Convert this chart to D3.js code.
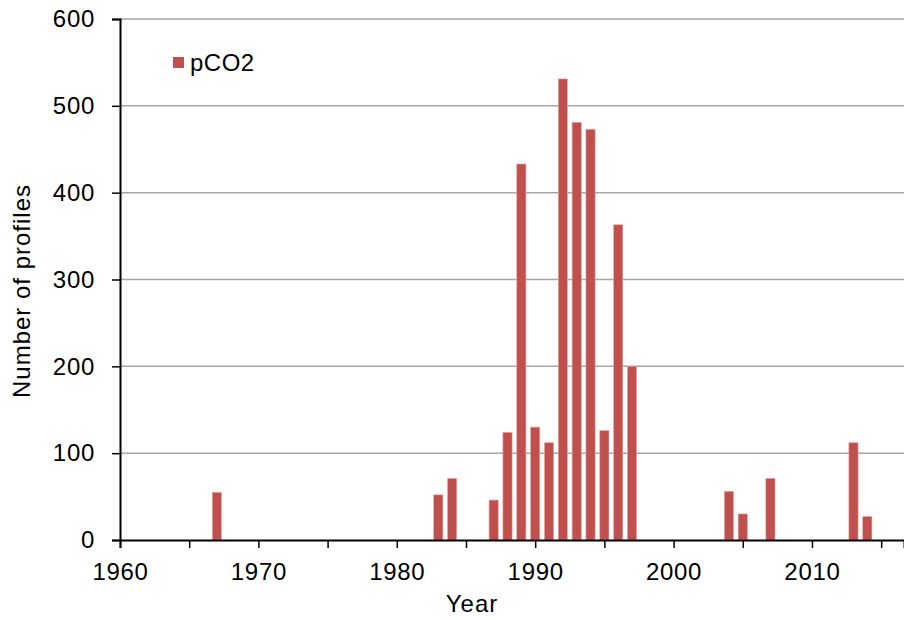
<!DOCTYPE html>
<html>
<head>
<meta charset="utf-8">
<script src="https://cdn.jsdelivr.net/npm/d3@7"></script>
<style>
  body { margin: 0; background: #fff; }
  text { font-family: "Liberation Sans", Arial, sans-serif; }
</style>
</head>
<body>
<div id="chart"></div>
<script>
// profile counts per year
var years  = [1967, 1983, 1984, 1987, 1988, 1989, 1990, 1991, 1992, 1993, 1994, 1995, 1996, 1997, 2004, 2005, 2007, 2013, 2014]
var counts = [55, 52, 71, 46, 124, 433, 130, 112, 531, 481, 473, 126, 363, 200, 56, 30, 71, 112, 27]
var yTicks = [0, 100, 200, 300, 400, 500, 600]
var xTicks = [1960, 1965, 1970, 1975, 1980, 1985, 1990, 1995, 2000, 2005, 2010, 2015]
var xLabels = [1960, 1970, 1980, 1990, 2000, 2010]

var W = 904, H = 620
var plotLeft = 120, plotRight = 904, plotTop = 19, plotBottom = 540

var svg = d3.select("#chart").append("svg")
  .attr("width", W)
  .attr("height", H)

var x = d3.scaleLinear().domain([1960, 2016.65]).range([plotLeft, plotRight])
var y = d3.scaleLinear().domain([0, 600]).range([plotBottom, plotTop])

// gridlines
svg.append("g").selectAll("line")
  .data(yTicks.filter(function(d){ return d > 0 }))
  .enter().append("line")
  .attr("x1", plotLeft).attr("x2", plotRight)
  .attr("y1", function(d){ return y(d) }).attr("y2", function(d){ return y(d) })
  .attr("stroke", "#a6a6a6").attr("stroke-width", 1.5)

// bars
var bw = 9.2
svg.append("g").selectAll("rect")
  .data(years)
  .enter().append("rect")
  .attr("x", function(d){ return x(d) - bw/2 })
  .attr("y", function(d, i){ return y(counts[i]) })
  .attr("width", bw)
  .attr("height", function(d, i){ return y(0) - y(counts[i]) })
  .attr("fill", "#c0504d")
  .attr("stroke", "#e8a8a6").attr("stroke-width", 0.6)

// y axis
var yAxis = d3.axisLeft(y).tickValues(yTicks).tickSize(8).tickPadding(17)
var gy = svg.append("g").attr("transform", "translate(" + plotLeft + ",0)").call(yAxis)
gy.select(".domain").attr("stroke", "#000").attr("stroke-width", 2)
gy.selectAll(".tick line").attr("stroke", "#000").attr("stroke-width", 1.5)
gy.selectAll("text").attr("font-size", "24px").attr("fill", "#000")
  .attr("letter-spacing", "0.7px")
  .attr("font-family", "Liberation Sans, Arial, sans-serif")

// x axis
var xAxis = d3.axisBottom(x).tickValues(xTicks).tickSize(8).tickPadding(15)
  .tickFormat(function(d){ return xLabels.indexOf(d) >= 0 ? d : "" })
var gx = svg.append("g").attr("transform", "translate(0," + plotBottom + ")").call(xAxis)
gx.select(".domain").attr("stroke", "#000").attr("stroke-width", 2)
gx.selectAll(".tick line").attr("stroke", "#000").attr("stroke-width", 1.5)
gx.selectAll("text").attr("font-size", "24px").attr("fill", "#000")
  .attr("letter-spacing", "0.7px")
  .attr("font-family", "Liberation Sans, Arial, sans-serif")

// axis titles
svg.append("text")
  .attr("x", 472).attr("y", 612)
  .attr("text-anchor", "middle")
  .attr("font-size", "24px")
  .attr("letter-spacing", "1px")
  .text("Year")

svg.append("text")
  .attr("transform", "translate(30,291) rotate(-90)")
  .attr("text-anchor", "middle")
  .attr("font-size", "24px")
  .attr("letter-spacing", "1px")
  .text("Number of profiles")

// legend
svg.append("rect")
  .attr("x", 173).attr("y", 57).attr("width", 11).attr("height", 11)
  .attr("fill", "#c0504d")
svg.append("text")
  .attr("x", 190).attr("y", 71)
  .attr("font-size", "24px")
  .attr("letter-spacing", "0.5px")
  .text("pCO2")
</script>
</body>
</html>
